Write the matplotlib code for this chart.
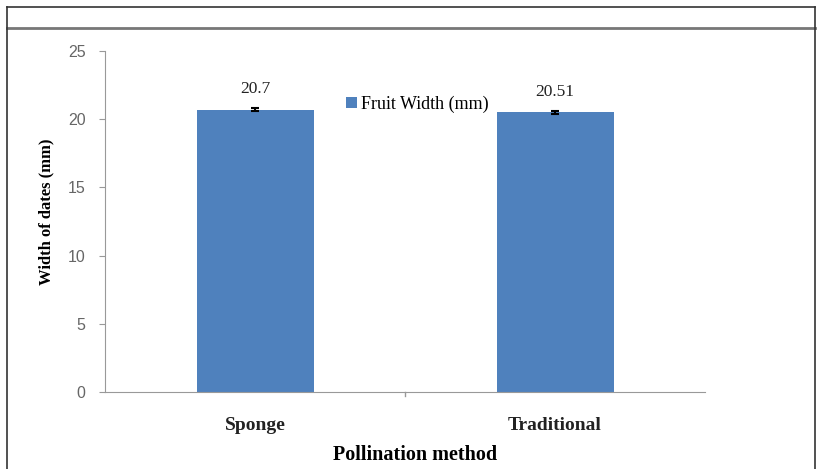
import matplotlib.pyplot as plt
from matplotlib.lines import Line2D

categories = ['Sponge', 'Traditional']
widths = [20.7, 20.51]
errors = [0.12, 0.12]
value_labels = ['20.7', '20.51']
yticks = [0, 5, 10, 15, 20, 25]

bar_color = '#4f81bd'
serif = ['Liberation Serif', 'DejaVu Serif']

fig = plt.figure(figsize=(8.18, 4.69), dpi=100)
W, H = 818, 469

# outer frame like the cropped page
def fline(x0, y0, x1, y1, lw=1.2, color='#333333'):
    fig.add_artist(Line2D([x0 / W, x1 / W], [1 - y0 / H, 1 - y1 / H],
                          transform=fig.transFigure, color=color, lw=lw))

fline(7, 7, 815, 7)
fline(7, 28, 815, 28, lw=2, color='#777777')
fline(7, 7, 7, 469)
fline(815, 7, 815, 469)

ax = fig.add_axes([105 / W, 1 - 392 / H, 600 / W, 341 / H])
x = range(len(categories))
ax.bar(x, widths, width=0.39, color=bar_color, label='Fruit Width (mm)',
       yerr=errors, error_kw=dict(ecolor='black', elinewidth=1.5, capsize=3, capthick=1.5))

for i, (v, lab) in enumerate(zip(widths, value_labels)):
    ax.text(i, v + 0.9, lab, ha='center', va='bottom', fontsize=12.5, family=serif, color='#222222')

ax.set_xlim(-0.5, 1.5)
ax.set_ylim(0, 25)
ax.set_yticks(yticks)
ax.set_yticklabels([str(t) for t in yticks], color='#666666', fontsize=11.5, family=['Liberation Sans', 'DejaVu Sans'])
ax.set_xticks(list(x))
ax.set_xticklabels(categories, fontsize=14, fontweight='bold', family=serif, color='#222222')
ax.tick_params(axis='x', length=0, pad=18)
ax.tick_params(axis='y', length=4, color='#999999', pad=10)
ax.axvline(0.5, ymin=-0.012, ymax=0, color='#999999', lw=1, clip_on=False)

for s in ['top', 'right']:
    ax.spines[s].set_visible(False)
for s in ['left', 'bottom']:
    ax.spines[s].set_color('#999999')

ax.set_ylabel('Width of dates (mm)', fontsize=12, fontweight='bold', family=serif)
ax.yaxis.set_label_coords(-0.085, 0.53)
ax.set_xlabel('Pollination method', fontsize=14.5, fontweight='bold', family=serif)
ax.xaxis.set_label_coords(0.517, -0.155)

ax.legend(loc='upper left', bbox_to_anchor=(0.39, 0.89), frameon=False,
          prop={'family': serif, 'size': 13}, handlelength=0.6, handleheight=0.6,
          handletextpad=0.2, borderaxespad=0)

fig.savefig('out.png', dpi=100)
